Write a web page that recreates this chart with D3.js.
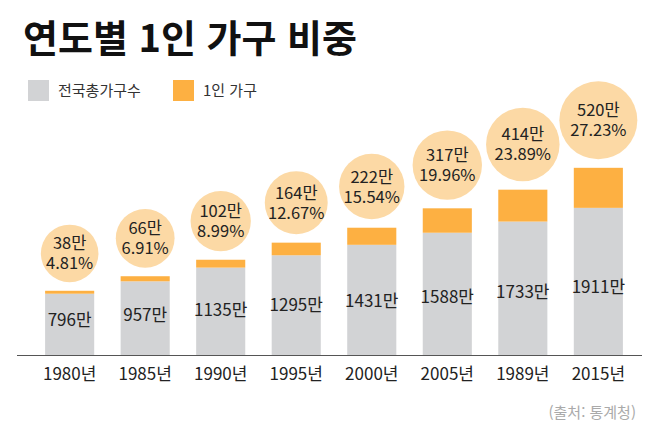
<!DOCTYPE html>
<html lang="ko">
<head>
<meta charset="UTF-8">
<title>연도별 1인 가구 비중</title>
<script src="https://d3js.org/d3.v7.min.js"></script>
<style>
  body { margin: 0; background: #fff; }
  svg { display: block; font-family: "Noto Sans CJK KR", "Noto Sans", sans-serif; }
</style>
</head>
<body>
<svg width="658" height="445"></svg>
<script>
// 데이터
const years = ["1980년", "1985년", "1990년", "1995년", "2000년", "2005년", "1989년", "2015년"];
const totalHouseholds = [796, 957, 1135, 1295, 1431, 1588, 1733, 1911];   // 만 가구
const singleHouseholds = [38, 66, 102, 164, 222, 317, 414, 520];          // 만 가구
const singleShare = ["4.81%", "6.91%", "8.99%", "12.67%", "15.54%", "19.96%", "23.89%", "27.23%"];

const colors = { total: "#d2d3d5", single: "#fdb042", bubble: "#fcd9a5", text: "#222" };

const svg = d3.select("svg");

const x = d3.scaleBand()
  .domain(years)
  .range([30, 638])
  .paddingInner(0.35)
  .paddingOuter(0.2);

const y = d3.scaleLinear()
  .domain([0, 2500])
  .range([355, 162.5]);

const r = d3.scaleLinear()
  .domain([0, 520])
  .range([28, 39]);

const rows = years.map((yr, i) => ({
  year: yr,
  total: totalHouseholds[i],
  single: singleHouseholds[i],
  share: singleShare[i]
}));

// 제목
svg.append("text")
  .attr("x", 23).attr("y", 52)
  .attr("font-size", 38).attr("font-weight", 700)
  .attr("fill", "#111")
  .text("연도별 1인 가구 비중");

// 범례
const legend = [
  { label: "전국총가구수", color: colors.total, x: 28 },
  { label: "1인 가구", color: colors.single, x: 173 }
];
const lg = svg.selectAll("g.legend").data(legend).enter().append("g")
  .attr("transform", d => `translate(${d.x},80)`);
lg.append("rect").attr("width", 21).attr("height", 21).attr("fill", d => d.color);
lg.append("text")
  .attr("x", 30).attr("y", 16)
  .attr("font-size", 15).attr("fill", "#333")
  .text(d => d.label);

// 막대
const bars = svg.append("g");
bars.selectAll("rect.total").data(rows).enter().append("rect")
  .attr("x", d => x(d.year))
  .attr("width", x.bandwidth())
  .attr("y", d => y(d.total))
  .attr("height", d => y(0) - y(d.total))
  .attr("fill", colors.total);

bars.selectAll("rect.single").data(rows).enter().append("rect")
  .attr("x", d => x(d.year))
  .attr("width", x.bandwidth())
  .attr("y", d => y(d.total + d.single))
  .attr("height", d => y(d.total) - y(d.total + d.single))
  .attr("fill", colors.single);

// 막대 안 라벨
bars.selectAll("text.total").data(rows).enter().append("text")
  .attr("x", d => x(d.year) + x.bandwidth() / 2)
  .attr("y", d => y(d.total * 0.375) - 6.5)
  .attr("text-anchor", "middle")
  .attr("font-size", 17).attr("fill", colors.text)
  .text(d => d.total + "만");

// 원 (1인 가구 수, 비중)
const bub = svg.append("g").selectAll("g").data(rows).enter().append("g")
  .attr("transform", d => {
    const cy = y(d.total + d.single) - 8.5 - r(d.single);
    return `translate(${x(d.year) + x.bandwidth() / 2},${cy})`;
  });
bub.append("circle").attr("r", d => r(d.single)).attr("fill", colors.bubble);
const bt = bub.append("text")
  .attr("text-anchor", "middle")
  .attr("font-size", 16.5).attr("fill", colors.text);
bt.append("tspan").attr("x", 0).attr("y", -4).text(d => d.single + "만");
bt.append("tspan").attr("x", 0).attr("y", 16).text(d => d.share);

// x축
const xAxis = svg.append("g")
  .attr("transform", `translate(0,${y(0)})`)
  .call(d3.axisBottom(x).tickSize(0).tickPadding(13));
xAxis.select(".domain")
  .attr("d", "M17,0.5H642")
  .attr("stroke", "#555");
xAxis.selectAll("text")
  .attr("font-size", 17)
  .attr("fill", colors.text)
  .attr("font-family", "\"Noto Sans CJK KR\", sans-serif");

// 출처
svg.append("text")
  .attr("x", 636).attr("y", 418)
  .attr("text-anchor", "end")
  .attr("font-size", 15).attr("fill", "#aaa")
  .text("(출처: 통계청)");
</script>
</body>
</html>
